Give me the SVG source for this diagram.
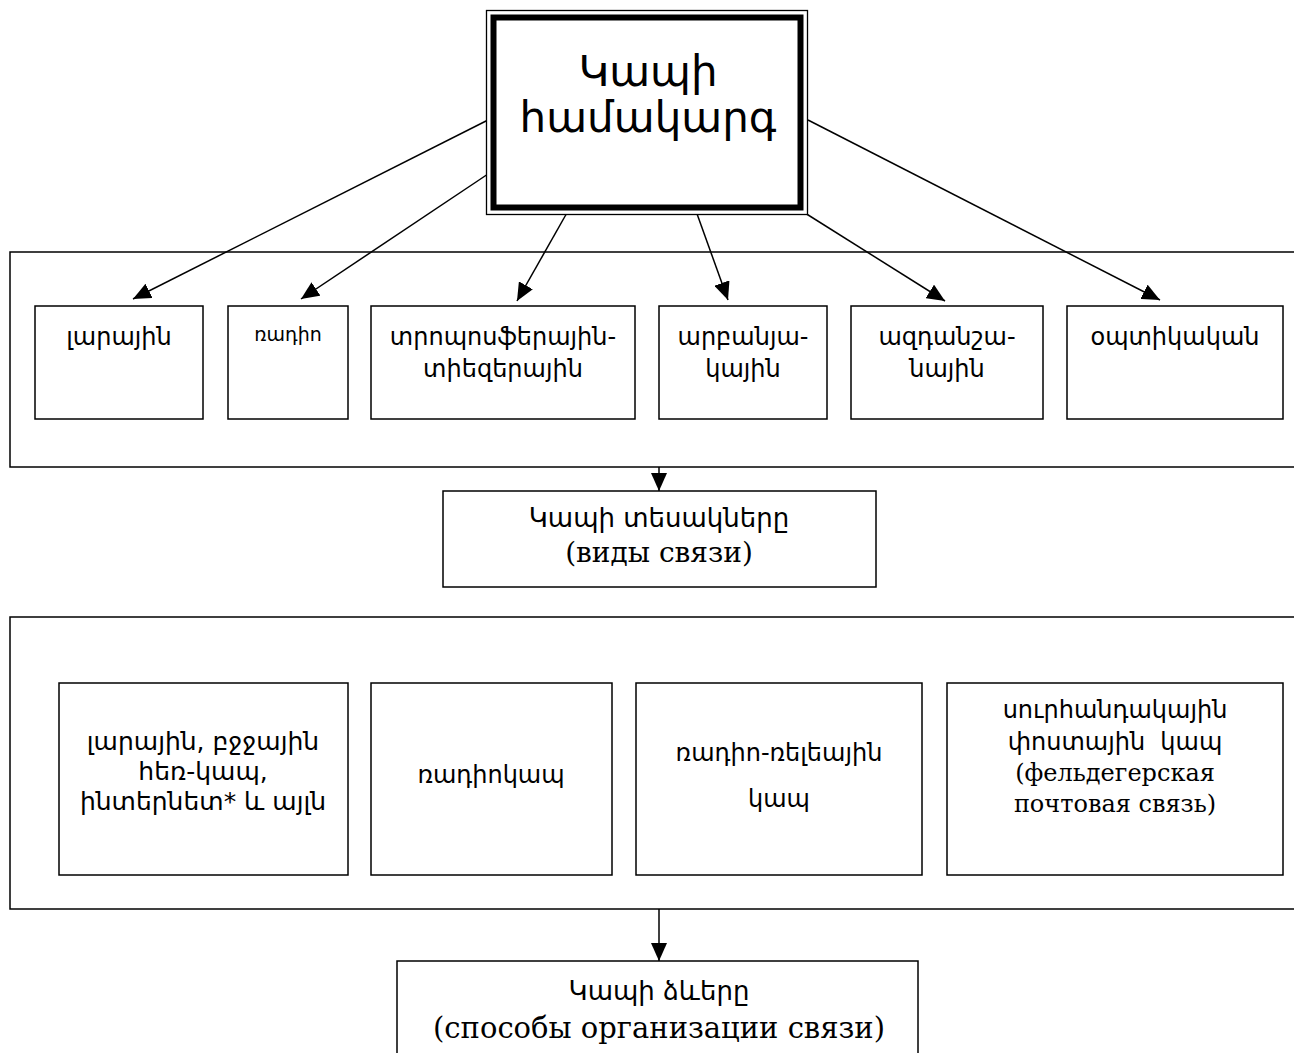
<svg xmlns="http://www.w3.org/2000/svg" width="1294" height="1053" viewBox="0 0 1294 1053">
<style>
.bx{fill:#fff;stroke:#000;stroke-width:1.5}
.ct{fill:none;stroke:#000;stroke-width:1.5}
.hy{font-family:"DejaVu Sans",sans-serif;font-size:24px;text-anchor:middle;fill:#000}
.ru{font-family:"DejaVu Serif",serif;font-size:24px;text-anchor:middle;fill:#000}
.cn{fill:none;stroke:#000;stroke-width:1.5}
</style>
<defs>
<marker id="ah" markerWidth="18" markerHeight="16" refX="18" refY="8" orient="auto" markerUnits="userSpaceOnUse">
<path d="M0,0 L18,8 L0,16 Z" fill="#000"/>
</marker>
</defs>
<rect width="1294" height="1053" fill="#fff"/>
<g id="container1"><rect class="ct" x="10" y="252" width="1300" height="215"/></g>
<g id="container2"><rect class="ct" x="10" y="617" width="1300" height="292"/></g>
<g id="connectors">
<line class="cn" x1="488" y1="120" x2="133" y2="299" marker-end="url(#ah)"/>
<line class="cn" x1="491" y1="172" x2="301" y2="299" marker-end="url(#ah)"/>
<line class="cn" x1="568" y1="211" x2="517" y2="301" marker-end="url(#ah)"/>
<line class="cn" x1="696" y1="211" x2="728" y2="300" marker-end="url(#ah)"/>
<line class="cn" x1="805" y1="213" x2="945" y2="301" marker-end="url(#ah)"/>
<line class="cn" x1="808" y1="120" x2="1160" y2="300" marker-end="url(#ah)"/>
<line class="cn" x1="659" y1="467" x2="659" y2="491" marker-end="url(#ah)"/>
<line class="cn" x1="659" y1="909" x2="659" y2="961" marker-end="url(#ah)"/>
</g>
<g id="top">
<rect x="486.5" y="10.5" width="321" height="204" fill="#fff" stroke="#000" stroke-width="1.3"/>
<rect x="493.5" y="17.5" width="307" height="190" fill="#fff" stroke="#000" stroke-width="6"/>
<text x="648" y="86" font-family="DejaVu Sans,sans-serif" font-size="42" text-anchor="middle">Կապի</text>
<text x="648" y="132" font-family="DejaVu Sans,sans-serif" font-size="42" text-anchor="middle">համակարգ</text>
</g>
<g id="n1"><rect class="bx" x="35" y="306" width="168" height="113"/><text class="hy" x="119" y="345">լարային</text></g>
<g id="n2"><rect class="bx" x="228" y="306" width="120" height="113"/><text class="hy" x="288" y="341" style="font-size:19px">ռադիո</text></g>
<g id="n3"><rect class="bx" x="371" y="306" width="264" height="113"/><text class="hy" x="503" y="345">տրոպոսֆերային-</text><text class="hy" x="503" y="377">տիեզերային</text></g>
<g id="n4"><rect class="bx" x="659" y="306" width="168" height="113"/><text class="hy" x="743" y="345">արբանյա-</text><text class="hy" x="743" y="377">կային</text></g>
<g id="n5"><rect class="bx" x="851" y="306" width="192" height="113"/><text class="hy" x="947" y="345">ազդանշա-</text><text class="hy" x="947" y="377">նային</text></g>
<g id="n6"><rect class="bx" x="1067" y="306" width="216" height="113"/><text class="hy" x="1175" y="345">օպտիկական</text></g>
<g id="types"><rect class="bx" x="443" y="491" width="433" height="96"/><text class="hy" x="659" y="527" style="font-size:26px">Կապի տեսակները</text><text class="ru" x="659" y="562" style="font-size:28px">(виды связи)</text></g>
<g id="m1"><rect class="bx" x="59" y="683" width="289" height="192"/><text class="hy" x="203" y="750" style="font-size:25px">լարային, բջջային</text><text class="hy" x="203" y="780" style="font-size:25px">հեռ-կապ,</text><text class="hy" x="203" y="810" style="font-size:25px">ինտերնետ* և այլն</text></g>
<g id="m2"><rect class="bx" x="371" y="683" width="241" height="192"/><text class="hy" x="491" y="783">ռադիոկապ</text></g>
<g id="m3"><rect class="bx" x="636" y="683" width="286" height="192"/><text class="hy" x="779" y="761">ռադիո-ռելեային</text><text class="hy" x="779" y="807">կապ</text></g>
<g id="m4"><rect class="bx" x="947" y="683" width="336" height="192"/><text class="hy" x="1115" y="718">սուրհանդակային</text><text class="hy" x="1115" y="750" xml:space="preserve">փոստային  կապ</text><text class="ru" x="1115" y="781">(фельдегерская</text><text class="ru" x="1115" y="812">почтовая связь)</text></g>
<g id="forms"><rect class="bx" x="397" y="961" width="521" height="110"/><text class="hy" x="659" y="1000" style="font-size:26px">Կապի ձևերը</text><text class="ru" x="659" y="1038" style="font-size:29px">(способы организации связи)</text></g>
</svg>
